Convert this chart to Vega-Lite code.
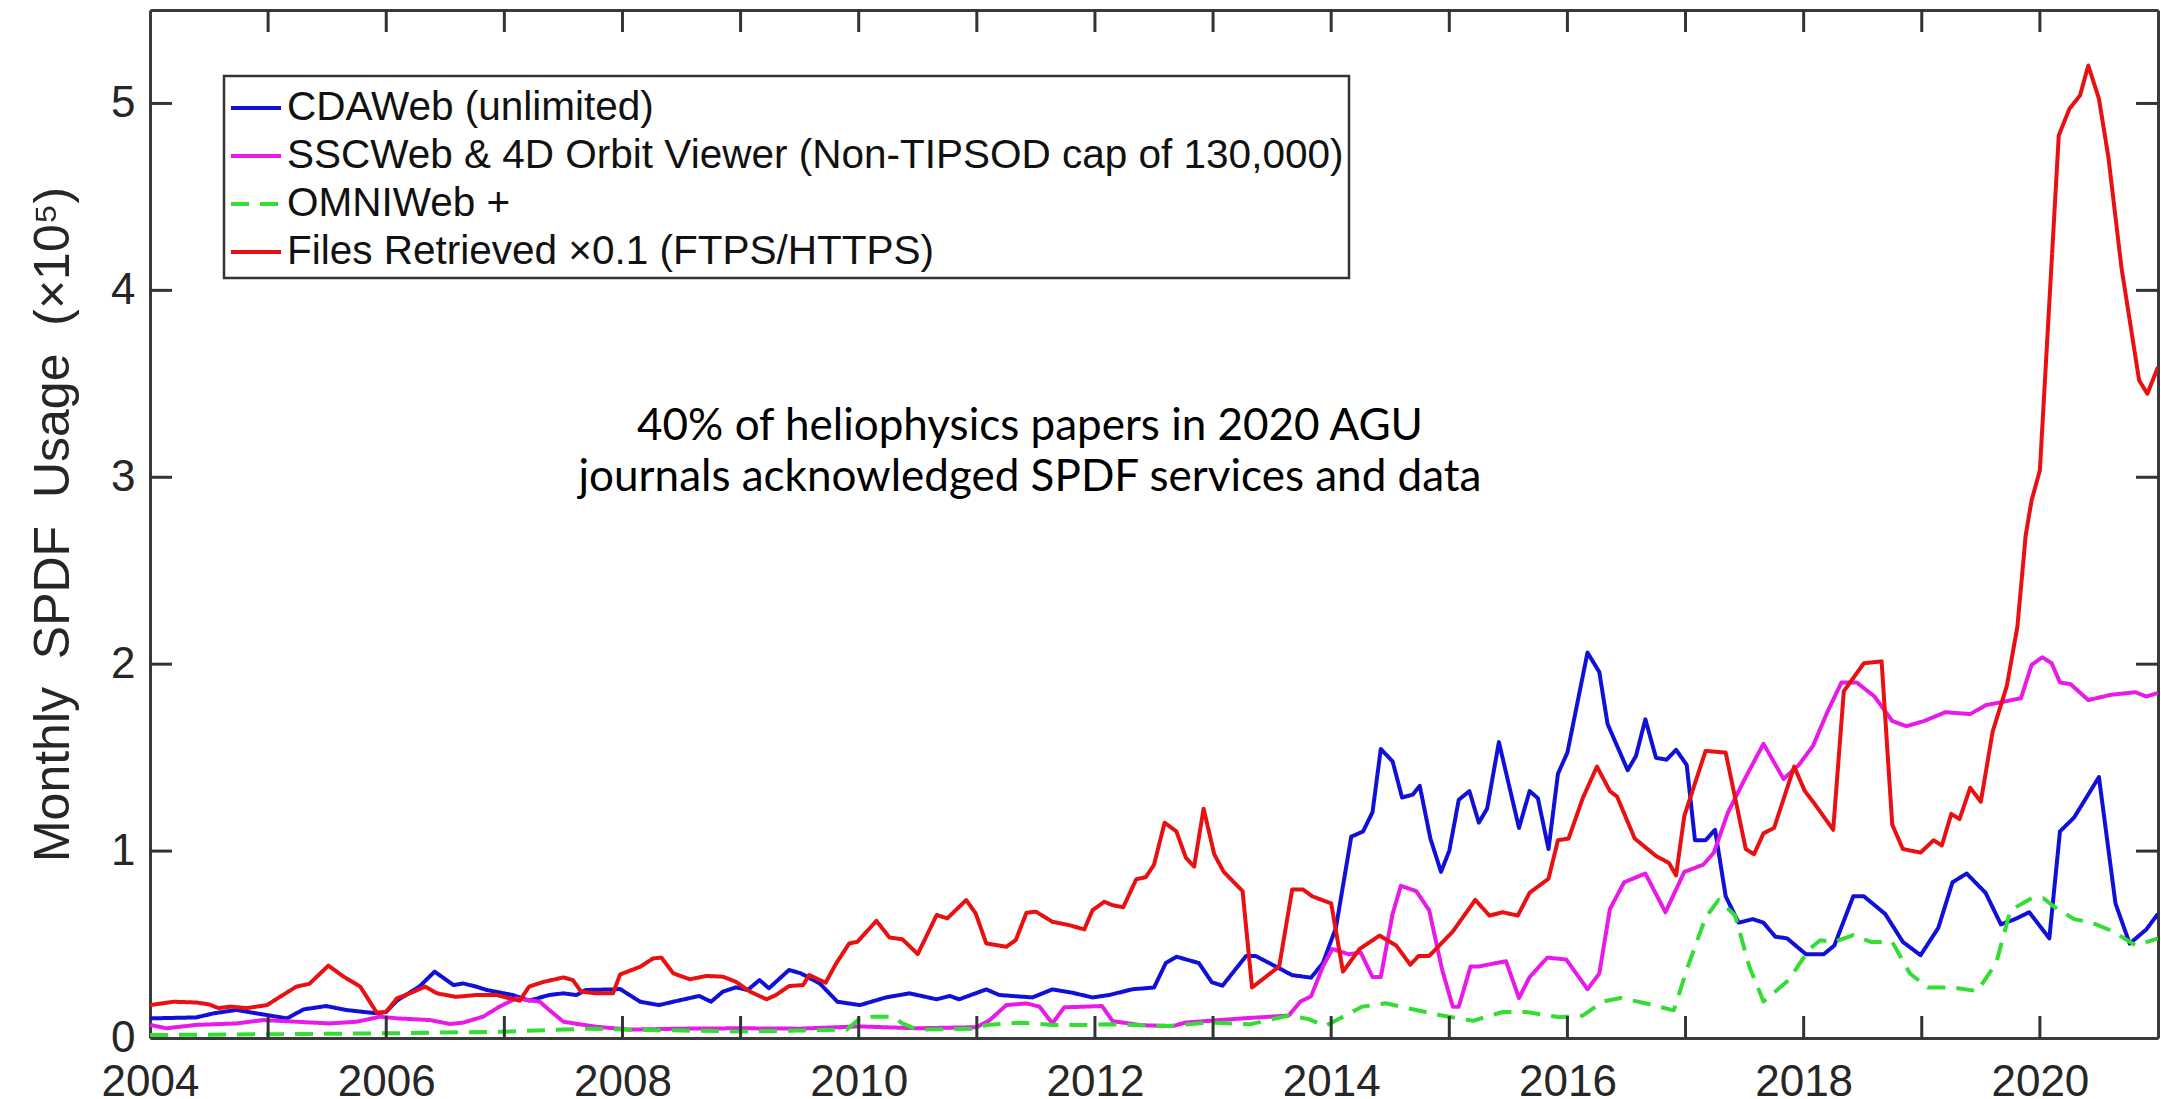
{
  "$schema": "https://vega.github.io/schema/vega-lite/v6.json",
  "width": 2008,
  "height": 1028,
  "autosize": {"type": "none"},
  "padding": {"left": 150, "top": 10, "right": 3, "bottom": 61},
  "background": "white",
  "config": {
    "view": {"stroke": null},
    "font": "Liberation Sans",
    "axis": {
      "grid": false,
      "domainColor": "#3a3a3a",
      "domainWidth": 3,
      "ticks": false,
      "tickSize": 0,
      "labelColor": "#262626",
      "labelFont": "Liberation Sans",
      "labelFontSize": 44,
      "labelFlush": false,
      "labelOverlap": false
    },
    "legend": {
      "orient": "none",
      "legendX": 74,
      "legendY": 66,
      "symbolType": "stroke",
      "symbolSize": 2500,
      "symbolStrokeWidth": 4,
      "labelFont": "Liberation Sans",
      "labelFontSize": 40.5,
      "labelColor": "#111111",
      "labelOffset": 4,
      "labelLimit": 0,
      "strokeColor": "#333333",
      "fillColor": "white",
      "padding": 5,
      "rowPadding": 0
    }
  },
  "datasets": {
    "series": [
      {"s": "CDAWeb (unlimited)", "t": 2004.0, "v": 0.105},
      {"s": "CDAWeb (unlimited)", "t": 2004.39, "v": 0.11},
      {"s": "CDAWeb (unlimited)", "t": 2004.54, "v": 0.132},
      {"s": "CDAWeb (unlimited)", "t": 2004.73, "v": 0.15},
      {"s": "CDAWeb (unlimited)", "t": 2004.9, "v": 0.132},
      {"s": "CDAWeb (unlimited)", "t": 2005.16, "v": 0.105},
      {"s": "CDAWeb (unlimited)", "t": 2005.3, "v": 0.153},
      {"s": "CDAWeb (unlimited)", "t": 2005.49, "v": 0.171},
      {"s": "CDAWeb (unlimited)", "t": 2005.66, "v": 0.15},
      {"s": "CDAWeb (unlimited)", "t": 2005.8, "v": 0.14},
      {"s": "CDAWeb (unlimited)", "t": 2005.93, "v": 0.132},
      {"s": "CDAWeb (unlimited)", "t": 2006.0, "v": 0.14},
      {"s": "CDAWeb (unlimited)", "t": 2006.09, "v": 0.2},
      {"s": "CDAWeb (unlimited)", "t": 2006.28, "v": 0.275},
      {"s": "CDAWeb (unlimited)", "t": 2006.41, "v": 0.355},
      {"s": "CDAWeb (unlimited)", "t": 2006.57, "v": 0.283},
      {"s": "CDAWeb (unlimited)", "t": 2006.65, "v": 0.292},
      {"s": "CDAWeb (unlimited)", "t": 2006.76, "v": 0.275},
      {"s": "CDAWeb (unlimited)", "t": 2006.85, "v": 0.257},
      {"s": "CDAWeb (unlimited)", "t": 2007.07, "v": 0.23},
      {"s": "CDAWeb (unlimited)", "t": 2007.21, "v": 0.2},
      {"s": "CDAWeb (unlimited)", "t": 2007.38, "v": 0.23},
      {"s": "CDAWeb (unlimited)", "t": 2007.5, "v": 0.239},
      {"s": "CDAWeb (unlimited)", "t": 2007.61, "v": 0.23},
      {"s": "CDAWeb (unlimited)", "t": 2007.69, "v": 0.257},
      {"s": "CDAWeb (unlimited)", "t": 2007.92, "v": 0.26},
      {"s": "CDAWeb (unlimited)", "t": 2007.98, "v": 0.262},
      {"s": "CDAWeb (unlimited)", "t": 2008.06, "v": 0.23},
      {"s": "CDAWeb (unlimited)", "t": 2008.15, "v": 0.194},
      {"s": "CDAWeb (unlimited)", "t": 2008.31, "v": 0.176},
      {"s": "CDAWeb (unlimited)", "t": 2008.43, "v": 0.194},
      {"s": "CDAWeb (unlimited)", "t": 2008.65, "v": 0.225},
      {"s": "CDAWeb (unlimited)", "t": 2008.75, "v": 0.194},
      {"s": "CDAWeb (unlimited)", "t": 2008.85, "v": 0.248},
      {"s": "CDAWeb (unlimited)", "t": 2008.96, "v": 0.271},
      {"s": "CDAWeb (unlimited)", "t": 2009.06, "v": 0.257},
      {"s": "CDAWeb (unlimited)", "t": 2009.16, "v": 0.31},
      {"s": "CDAWeb (unlimited)", "t": 2009.24, "v": 0.266},
      {"s": "CDAWeb (unlimited)", "t": 2009.41, "v": 0.364},
      {"s": "CDAWeb (unlimited)", "t": 2009.51, "v": 0.346},
      {"s": "CDAWeb (unlimited)", "t": 2009.67, "v": 0.292},
      {"s": "CDAWeb (unlimited)", "t": 2009.82, "v": 0.194},
      {"s": "CDAWeb (unlimited)", "t": 2010.01, "v": 0.176},
      {"s": "CDAWeb (unlimited)", "t": 2010.23, "v": 0.217},
      {"s": "CDAWeb (unlimited)", "t": 2010.43, "v": 0.239},
      {"s": "CDAWeb (unlimited)", "t": 2010.66, "v": 0.207},
      {"s": "CDAWeb (unlimited)", "t": 2010.77, "v": 0.225},
      {"s": "CDAWeb (unlimited)", "t": 2010.85, "v": 0.207},
      {"s": "CDAWeb (unlimited)", "t": 2011.08, "v": 0.26},
      {"s": "CDAWeb (unlimited)", "t": 2011.19, "v": 0.23},
      {"s": "CDAWeb (unlimited)", "t": 2011.47, "v": 0.217},
      {"s": "CDAWeb (unlimited)", "t": 2011.64, "v": 0.26},
      {"s": "CDAWeb (unlimited)", "t": 2011.81, "v": 0.242},
      {"s": "CDAWeb (unlimited)", "t": 2011.98, "v": 0.217},
      {"s": "CDAWeb (unlimited)", "t": 2012.12, "v": 0.23},
      {"s": "CDAWeb (unlimited)", "t": 2012.32, "v": 0.261},
      {"s": "CDAWeb (unlimited)", "t": 2012.5, "v": 0.27},
      {"s": "CDAWeb (unlimited)", "t": 2012.6, "v": 0.401},
      {"s": "CDAWeb (unlimited)", "t": 2012.69, "v": 0.435},
      {"s": "CDAWeb (unlimited)", "t": 2012.88, "v": 0.401},
      {"s": "CDAWeb (unlimited)", "t": 2012.99, "v": 0.298},
      {"s": "CDAWeb (unlimited)", "t": 2013.08, "v": 0.28},
      {"s": "CDAWeb (unlimited)", "t": 2013.28, "v": 0.439},
      {"s": "CDAWeb (unlimited)", "t": 2013.36, "v": 0.439},
      {"s": "CDAWeb (unlimited)", "t": 2013.53, "v": 0.383},
      {"s": "CDAWeb (unlimited)", "t": 2013.67, "v": 0.336},
      {"s": "CDAWeb (unlimited)", "t": 2013.83, "v": 0.323},
      {"s": "CDAWeb (unlimited)", "t": 2013.93, "v": 0.401},
      {"s": "CDAWeb (unlimited)", "t": 2014.04, "v": 0.589},
      {"s": "CDAWeb (unlimited)", "t": 2014.17, "v": 1.077},
      {"s": "CDAWeb (unlimited)", "t": 2014.27, "v": 1.105},
      {"s": "CDAWeb (unlimited)", "t": 2014.35, "v": 1.208},
      {"s": "CDAWeb (unlimited)", "t": 2014.42, "v": 1.546},
      {"s": "CDAWeb (unlimited)", "t": 2014.52, "v": 1.48},
      {"s": "CDAWeb (unlimited)", "t": 2014.6, "v": 1.287},
      {"s": "CDAWeb (unlimited)", "t": 2014.69, "v": 1.302},
      {"s": "CDAWeb (unlimited)", "t": 2014.75, "v": 1.349},
      {"s": "CDAWeb (unlimited)", "t": 2014.84, "v": 1.067},
      {"s": "CDAWeb (unlimited)", "t": 2014.93, "v": 0.889},
      {"s": "CDAWeb (unlimited)", "t": 2015.0, "v": 1.002},
      {"s": "CDAWeb (unlimited)", "t": 2015.08, "v": 1.274},
      {"s": "CDAWeb (unlimited)", "t": 2015.17, "v": 1.321},
      {"s": "CDAWeb (unlimited)", "t": 2015.25, "v": 1.152},
      {"s": "CDAWeb (unlimited)", "t": 2015.32, "v": 1.227},
      {"s": "CDAWeb (unlimited)", "t": 2015.42, "v": 1.583},
      {"s": "CDAWeb (unlimited)", "t": 2015.59, "v": 1.124},
      {"s": "CDAWeb (unlimited)", "t": 2015.68, "v": 1.321},
      {"s": "CDAWeb (unlimited)", "t": 2015.75, "v": 1.283},
      {"s": "CDAWeb (unlimited)", "t": 2015.84, "v": 1.011},
      {"s": "CDAWeb (unlimited)", "t": 2015.92, "v": 1.414},
      {"s": "CDAWeb (unlimited)", "t": 2016.0, "v": 1.527},
      {"s": "CDAWeb (unlimited)", "t": 2016.17, "v": 2.062},
      {"s": "CDAWeb (unlimited)", "t": 2016.27, "v": 1.958},
      {"s": "CDAWeb (unlimited)", "t": 2016.34, "v": 1.68},
      {"s": "CDAWeb (unlimited)", "t": 2016.51, "v": 1.433},
      {"s": "CDAWeb (unlimited)", "t": 2016.58, "v": 1.508},
      {"s": "CDAWeb (unlimited)", "t": 2016.66, "v": 1.705},
      {"s": "CDAWeb (unlimited)", "t": 2016.75, "v": 1.499},
      {"s": "CDAWeb (unlimited)", "t": 2016.84, "v": 1.489},
      {"s": "CDAWeb (unlimited)", "t": 2016.92, "v": 1.542},
      {"s": "CDAWeb (unlimited)", "t": 2017.01, "v": 1.461},
      {"s": "CDAWeb (unlimited)", "t": 2017.08, "v": 1.058},
      {"s": "CDAWeb (unlimited)", "t": 2017.17, "v": 1.058},
      {"s": "CDAWeb (unlimited)", "t": 2017.25, "v": 1.114},
      {"s": "CDAWeb (unlimited)", "t": 2017.34, "v": 0.758},
      {"s": "CDAWeb (unlimited)", "t": 2017.45, "v": 0.617},
      {"s": "CDAWeb (unlimited)", "t": 2017.57, "v": 0.636},
      {"s": "CDAWeb (unlimited)", "t": 2017.66, "v": 0.617},
      {"s": "CDAWeb (unlimited)", "t": 2017.76, "v": 0.542},
      {"s": "CDAWeb (unlimited)", "t": 2017.86, "v": 0.533},
      {"s": "CDAWeb (unlimited)", "t": 2018.02, "v": 0.448},
      {"s": "CDAWeb (unlimited)", "t": 2018.17, "v": 0.448},
      {"s": "CDAWeb (unlimited)", "t": 2018.26, "v": 0.495},
      {"s": "CDAWeb (unlimited)", "t": 2018.42, "v": 0.758},
      {"s": "CDAWeb (unlimited)", "t": 2018.51, "v": 0.758},
      {"s": "CDAWeb (unlimited)", "t": 2018.69, "v": 0.664},
      {"s": "CDAWeb (unlimited)", "t": 2018.84, "v": 0.514},
      {"s": "CDAWeb (unlimited)", "t": 2018.99, "v": 0.443},
      {"s": "CDAWeb (unlimited)", "t": 2019.14, "v": 0.589},
      {"s": "CDAWeb (unlimited)", "t": 2019.26, "v": 0.833},
      {"s": "CDAWeb (unlimited)", "t": 2019.38, "v": 0.88},
      {"s": "CDAWeb (unlimited)", "t": 2019.54, "v": 0.777},
      {"s": "CDAWeb (unlimited)", "t": 2019.67, "v": 0.608},
      {"s": "CDAWeb (unlimited)", "t": 2019.79, "v": 0.636},
      {"s": "CDAWeb (unlimited)", "t": 2019.91, "v": 0.673},
      {"s": "CDAWeb (unlimited)", "t": 2020.08, "v": 0.533},
      {"s": "CDAWeb (unlimited)", "t": 2020.17, "v": 1.105},
      {"s": "CDAWeb (unlimited)", "t": 2020.29, "v": 1.18},
      {"s": "CDAWeb (unlimited)", "t": 2020.5, "v": 1.396},
      {"s": "CDAWeb (unlimited)", "t": 2020.64, "v": 0.72},
      {"s": "CDAWeb (unlimited)", "t": 2020.76, "v": 0.505},
      {"s": "CDAWeb (unlimited)", "t": 2020.9, "v": 0.58},
      {"s": "CDAWeb (unlimited)", "t": 2021.0, "v": 0.664},

      {"s": "SSCWeb & 4D Orbit Viewer (Non-TIPSOD cap of 130,000)", "t": 2004.0, "v": 0.07},
      {"s": "SSCWeb & 4D Orbit Viewer (Non-TIPSOD cap of 130,000)", "t": 2004.14, "v": 0.052},
      {"s": "SSCWeb & 4D Orbit Viewer (Non-TIPSOD cap of 130,000)", "t": 2004.39, "v": 0.07},
      {"s": "SSCWeb & 4D Orbit Viewer (Non-TIPSOD cap of 130,000)", "t": 2004.73, "v": 0.078},
      {"s": "SSCWeb & 4D Orbit Viewer (Non-TIPSOD cap of 130,000)", "t": 2004.96, "v": 0.096},
      {"s": "SSCWeb & 4D Orbit Viewer (Non-TIPSOD cap of 130,000)", "t": 2005.24, "v": 0.087},
      {"s": "SSCWeb & 4D Orbit Viewer (Non-TIPSOD cap of 130,000)", "t": 2005.52, "v": 0.078},
      {"s": "SSCWeb & 4D Orbit Viewer (Non-TIPSOD cap of 130,000)", "t": 2005.75, "v": 0.087},
      {"s": "SSCWeb & 4D Orbit Viewer (Non-TIPSOD cap of 130,000)", "t": 2005.95, "v": 0.114},
      {"s": "SSCWeb & 4D Orbit Viewer (Non-TIPSOD cap of 130,000)", "t": 2006.09, "v": 0.105},
      {"s": "SSCWeb & 4D Orbit Viewer (Non-TIPSOD cap of 130,000)", "t": 2006.37, "v": 0.096},
      {"s": "SSCWeb & 4D Orbit Viewer (Non-TIPSOD cap of 130,000)", "t": 2006.54, "v": 0.075},
      {"s": "SSCWeb & 4D Orbit Viewer (Non-TIPSOD cap of 130,000)", "t": 2006.65, "v": 0.082},
      {"s": "SSCWeb & 4D Orbit Viewer (Non-TIPSOD cap of 130,000)", "t": 2006.82, "v": 0.114},
      {"s": "SSCWeb & 4D Orbit Viewer (Non-TIPSOD cap of 130,000)", "t": 2006.96, "v": 0.168},
      {"s": "SSCWeb & 4D Orbit Viewer (Non-TIPSOD cap of 130,000)", "t": 2007.1, "v": 0.212},
      {"s": "SSCWeb & 4D Orbit Viewer (Non-TIPSOD cap of 130,000)", "t": 2007.3, "v": 0.194},
      {"s": "SSCWeb & 4D Orbit Viewer (Non-TIPSOD cap of 130,000)", "t": 2007.38, "v": 0.15},
      {"s": "SSCWeb & 4D Orbit Viewer (Non-TIPSOD cap of 130,000)", "t": 2007.5, "v": 0.087},
      {"s": "SSCWeb & 4D Orbit Viewer (Non-TIPSOD cap of 130,000)", "t": 2007.78, "v": 0.06},
      {"s": "SSCWeb & 4D Orbit Viewer (Non-TIPSOD cap of 130,000)", "t": 2008.06, "v": 0.045},
      {"s": "SSCWeb & 4D Orbit Viewer (Non-TIPSOD cap of 130,000)", "t": 2008.5, "v": 0.05},
      {"s": "SSCWeb & 4D Orbit Viewer (Non-TIPSOD cap of 130,000)", "t": 2009.0, "v": 0.052},
      {"s": "SSCWeb & 4D Orbit Viewer (Non-TIPSOD cap of 130,000)", "t": 2009.5, "v": 0.05},
      {"s": "SSCWeb & 4D Orbit Viewer (Non-TIPSOD cap of 130,000)", "t": 2010.0, "v": 0.062},
      {"s": "SSCWeb & 4D Orbit Viewer (Non-TIPSOD cap of 130,000)", "t": 2010.5, "v": 0.052},
      {"s": "SSCWeb & 4D Orbit Viewer (Non-TIPSOD cap of 130,000)", "t": 2011.0, "v": 0.058},
      {"s": "SSCWeb & 4D Orbit Viewer (Non-TIPSOD cap of 130,000)", "t": 2011.11, "v": 0.096},
      {"s": "SSCWeb & 4D Orbit Viewer (Non-TIPSOD cap of 130,000)", "t": 2011.25, "v": 0.176},
      {"s": "SSCWeb & 4D Orbit Viewer (Non-TIPSOD cap of 130,000)", "t": 2011.42, "v": 0.185},
      {"s": "SSCWeb & 4D Orbit Viewer (Non-TIPSOD cap of 130,000)", "t": 2011.53, "v": 0.168},
      {"s": "SSCWeb & 4D Orbit Viewer (Non-TIPSOD cap of 130,000)", "t": 2011.64, "v": 0.078},
      {"s": "SSCWeb & 4D Orbit Viewer (Non-TIPSOD cap of 130,000)", "t": 2011.74, "v": 0.164},
      {"s": "SSCWeb & 4D Orbit Viewer (Non-TIPSOD cap of 130,000)", "t": 2012.06, "v": 0.171},
      {"s": "SSCWeb & 4D Orbit Viewer (Non-TIPSOD cap of 130,000)", "t": 2012.15, "v": 0.09},
      {"s": "SSCWeb & 4D Orbit Viewer (Non-TIPSOD cap of 130,000)", "t": 2012.4, "v": 0.068},
      {"s": "SSCWeb & 4D Orbit Viewer (Non-TIPSOD cap of 130,000)", "t": 2012.66, "v": 0.064},
      {"s": "SSCWeb & 4D Orbit Viewer (Non-TIPSOD cap of 130,000)", "t": 2012.77, "v": 0.083},
      {"s": "SSCWeb & 4D Orbit Viewer (Non-TIPSOD cap of 130,000)", "t": 2012.97, "v": 0.092},
      {"s": "SSCWeb & 4D Orbit Viewer (Non-TIPSOD cap of 130,000)", "t": 2013.25, "v": 0.105},
      {"s": "SSCWeb & 4D Orbit Viewer (Non-TIPSOD cap of 130,000)", "t": 2013.64, "v": 0.12},
      {"s": "SSCWeb & 4D Orbit Viewer (Non-TIPSOD cap of 130,000)", "t": 2013.74, "v": 0.195},
      {"s": "SSCWeb & 4D Orbit Viewer (Non-TIPSOD cap of 130,000)", "t": 2013.83, "v": 0.223},
      {"s": "SSCWeb & 4D Orbit Viewer (Non-TIPSOD cap of 130,000)", "t": 2013.93, "v": 0.383},
      {"s": "SSCWeb & 4D Orbit Viewer (Non-TIPSOD cap of 130,000)", "t": 2014.01, "v": 0.476},
      {"s": "SSCWeb & 4D Orbit Viewer (Non-TIPSOD cap of 130,000)", "t": 2014.15, "v": 0.448},
      {"s": "SSCWeb & 4D Orbit Viewer (Non-TIPSOD cap of 130,000)", "t": 2014.25, "v": 0.458},
      {"s": "SSCWeb & 4D Orbit Viewer (Non-TIPSOD cap of 130,000)", "t": 2014.35, "v": 0.326},
      {"s": "SSCWeb & 4D Orbit Viewer (Non-TIPSOD cap of 130,000)", "t": 2014.42, "v": 0.326},
      {"s": "SSCWeb & 4D Orbit Viewer (Non-TIPSOD cap of 130,000)", "t": 2014.52, "v": 0.664},
      {"s": "SSCWeb & 4D Orbit Viewer (Non-TIPSOD cap of 130,000)", "t": 2014.59, "v": 0.814},
      {"s": "SSCWeb & 4D Orbit Viewer (Non-TIPSOD cap of 130,000)", "t": 2014.72, "v": 0.786},
      {"s": "SSCWeb & 4D Orbit Viewer (Non-TIPSOD cap of 130,000)", "t": 2014.83, "v": 0.683},
      {"s": "SSCWeb & 4D Orbit Viewer (Non-TIPSOD cap of 130,000)", "t": 2014.94, "v": 0.364},
      {"s": "SSCWeb & 4D Orbit Viewer (Non-TIPSOD cap of 130,000)", "t": 2015.03, "v": 0.167},
      {"s": "SSCWeb & 4D Orbit Viewer (Non-TIPSOD cap of 130,000)", "t": 2015.08, "v": 0.167},
      {"s": "SSCWeb & 4D Orbit Viewer (Non-TIPSOD cap of 130,000)", "t": 2015.18, "v": 0.383},
      {"s": "SSCWeb & 4D Orbit Viewer (Non-TIPSOD cap of 130,000)", "t": 2015.25, "v": 0.383},
      {"s": "SSCWeb & 4D Orbit Viewer (Non-TIPSOD cap of 130,000)", "t": 2015.48, "v": 0.411},
      {"s": "SSCWeb & 4D Orbit Viewer (Non-TIPSOD cap of 130,000)", "t": 2015.59, "v": 0.214},
      {"s": "SSCWeb & 4D Orbit Viewer (Non-TIPSOD cap of 130,000)", "t": 2015.68, "v": 0.326},
      {"s": "SSCWeb & 4D Orbit Viewer (Non-TIPSOD cap of 130,000)", "t": 2015.83, "v": 0.43},
      {"s": "SSCWeb & 4D Orbit Viewer (Non-TIPSOD cap of 130,000)", "t": 2015.99, "v": 0.42},
      {"s": "SSCWeb & 4D Orbit Viewer (Non-TIPSOD cap of 130,000)", "t": 2016.17, "v": 0.261},
      {"s": "SSCWeb & 4D Orbit Viewer (Non-TIPSOD cap of 130,000)", "t": 2016.27, "v": 0.345},
      {"s": "SSCWeb & 4D Orbit Viewer (Non-TIPSOD cap of 130,000)", "t": 2016.36, "v": 0.69},
      {"s": "SSCWeb & 4D Orbit Viewer (Non-TIPSOD cap of 130,000)", "t": 2016.48, "v": 0.833},
      {"s": "SSCWeb & 4D Orbit Viewer (Non-TIPSOD cap of 130,000)", "t": 2016.66, "v": 0.88},
      {"s": "SSCWeb & 4D Orbit Viewer (Non-TIPSOD cap of 130,000)", "t": 2016.83, "v": 0.673},
      {"s": "SSCWeb & 4D Orbit Viewer (Non-TIPSOD cap of 130,000)", "t": 2016.99, "v": 0.889},
      {"s": "SSCWeb & 4D Orbit Viewer (Non-TIPSOD cap of 130,000)", "t": 2017.15, "v": 0.927},
      {"s": "SSCWeb & 4D Orbit Viewer (Non-TIPSOD cap of 130,000)", "t": 2017.24, "v": 0.992},
      {"s": "SSCWeb & 4D Orbit Viewer (Non-TIPSOD cap of 130,000)", "t": 2017.36, "v": 1.208},
      {"s": "SSCWeb & 4D Orbit Viewer (Non-TIPSOD cap of 130,000)", "t": 2017.51, "v": 1.396},
      {"s": "SSCWeb & 4D Orbit Viewer (Non-TIPSOD cap of 130,000)", "t": 2017.66, "v": 1.574},
      {"s": "SSCWeb & 4D Orbit Viewer (Non-TIPSOD cap of 130,000)", "t": 2017.83, "v": 1.386},
      {"s": "SSCWeb & 4D Orbit Viewer (Non-TIPSOD cap of 130,000)", "t": 2017.96, "v": 1.461},
      {"s": "SSCWeb & 4D Orbit Viewer (Non-TIPSOD cap of 130,000)", "t": 2018.08, "v": 1.564},
      {"s": "SSCWeb & 4D Orbit Viewer (Non-TIPSOD cap of 130,000)", "t": 2018.2, "v": 1.743},
      {"s": "SSCWeb & 4D Orbit Viewer (Non-TIPSOD cap of 130,000)", "t": 2018.32, "v": 1.902},
      {"s": "SSCWeb & 4D Orbit Viewer (Non-TIPSOD cap of 130,000)", "t": 2018.45, "v": 1.902},
      {"s": "SSCWeb & 4D Orbit Viewer (Non-TIPSOD cap of 130,000)", "t": 2018.6, "v": 1.827},
      {"s": "SSCWeb & 4D Orbit Viewer (Non-TIPSOD cap of 130,000)", "t": 2018.75, "v": 1.696},
      {"s": "SSCWeb & 4D Orbit Viewer (Non-TIPSOD cap of 130,000)", "t": 2018.87, "v": 1.668},
      {"s": "SSCWeb & 4D Orbit Viewer (Non-TIPSOD cap of 130,000)", "t": 2019.02, "v": 1.696},
      {"s": "SSCWeb & 4D Orbit Viewer (Non-TIPSOD cap of 130,000)", "t": 2019.2, "v": 1.743},
      {"s": "SSCWeb & 4D Orbit Viewer (Non-TIPSOD cap of 130,000)", "t": 2019.41, "v": 1.733},
      {"s": "SSCWeb & 4D Orbit Viewer (Non-TIPSOD cap of 130,000)", "t": 2019.54, "v": 1.78},
      {"s": "SSCWeb & 4D Orbit Viewer (Non-TIPSOD cap of 130,000)", "t": 2019.69, "v": 1.799},
      {"s": "SSCWeb & 4D Orbit Viewer (Non-TIPSOD cap of 130,000)", "t": 2019.84, "v": 1.818},
      {"s": "SSCWeb & 4D Orbit Viewer (Non-TIPSOD cap of 130,000)", "t": 2019.93, "v": 1.996},
      {"s": "SSCWeb & 4D Orbit Viewer (Non-TIPSOD cap of 130,000)", "t": 2020.02, "v": 2.037},
      {"s": "SSCWeb & 4D Orbit Viewer (Non-TIPSOD cap of 130,000)", "t": 2020.1, "v": 2.005},
      {"s": "SSCWeb & 4D Orbit Viewer (Non-TIPSOD cap of 130,000)", "t": 2020.17, "v": 1.902},
      {"s": "SSCWeb & 4D Orbit Viewer (Non-TIPSOD cap of 130,000)", "t": 2020.26, "v": 1.893},
      {"s": "SSCWeb & 4D Orbit Viewer (Non-TIPSOD cap of 130,000)", "t": 2020.41, "v": 1.808},
      {"s": "SSCWeb & 4D Orbit Viewer (Non-TIPSOD cap of 130,000)", "t": 2020.6, "v": 1.836},
      {"s": "SSCWeb & 4D Orbit Viewer (Non-TIPSOD cap of 130,000)", "t": 2020.81, "v": 1.85},
      {"s": "SSCWeb & 4D Orbit Viewer (Non-TIPSOD cap of 130,000)", "t": 2020.9, "v": 1.827},
      {"s": "SSCWeb & 4D Orbit Viewer (Non-TIPSOD cap of 130,000)", "t": 2021.0, "v": 1.846},

      {"s": "OMNIWeb +", "t": 2004.0, "v": 0.016},
      {"s": "OMNIWeb +", "t": 2005.0, "v": 0.02},
      {"s": "OMNIWeb +", "t": 2006.0, "v": 0.025},
      {"s": "OMNIWeb +", "t": 2007.0, "v": 0.034},
      {"s": "OMNIWeb +", "t": 2007.7, "v": 0.05},
      {"s": "OMNIWeb +", "t": 2008.0, "v": 0.045},
      {"s": "OMNIWeb +", "t": 2008.5, "v": 0.04},
      {"s": "OMNIWeb +", "t": 2009.0, "v": 0.035},
      {"s": "OMNIWeb +", "t": 2009.5, "v": 0.04},
      {"s": "OMNIWeb +", "t": 2009.9, "v": 0.045},
      {"s": "OMNIWeb +", "t": 2010.01, "v": 0.105},
      {"s": "OMNIWeb +", "t": 2010.12, "v": 0.114},
      {"s": "OMNIWeb +", "t": 2010.29, "v": 0.114},
      {"s": "OMNIWeb +", "t": 2010.37, "v": 0.078},
      {"s": "OMNIWeb +", "t": 2010.5, "v": 0.045},
      {"s": "OMNIWeb +", "t": 2011.0, "v": 0.05},
      {"s": "OMNIWeb +", "t": 2011.08, "v": 0.07},
      {"s": "OMNIWeb +", "t": 2011.36, "v": 0.082},
      {"s": "OMNIWeb +", "t": 2011.64, "v": 0.07},
      {"s": "OMNIWeb +", "t": 2011.92, "v": 0.07},
      {"s": "OMNIWeb +", "t": 2012.12, "v": 0.073},
      {"s": "OMNIWeb +", "t": 2012.63, "v": 0.064},
      {"s": "OMNIWeb +", "t": 2012.97, "v": 0.083},
      {"s": "OMNIWeb +", "t": 2013.31, "v": 0.073},
      {"s": "OMNIWeb +", "t": 2013.64, "v": 0.12},
      {"s": "OMNIWeb +", "t": 2013.81, "v": 0.101},
      {"s": "OMNIWeb +", "t": 2013.95, "v": 0.064},
      {"s": "OMNIWeb +", "t": 2014.26, "v": 0.167},
      {"s": "OMNIWeb +", "t": 2014.46, "v": 0.186},
      {"s": "OMNIWeb +", "t": 2014.66, "v": 0.158},
      {"s": "OMNIWeb +", "t": 2014.94, "v": 0.12},
      {"s": "OMNIWeb +", "t": 2015.2, "v": 0.092},
      {"s": "OMNIWeb +", "t": 2015.45, "v": 0.139},
      {"s": "OMNIWeb +", "t": 2015.65, "v": 0.139},
      {"s": "OMNIWeb +", "t": 2015.93, "v": 0.111},
      {"s": "OMNIWeb +", "t": 2016.13, "v": 0.12},
      {"s": "OMNIWeb +", "t": 2016.3, "v": 0.195},
      {"s": "OMNIWeb +", "t": 2016.45, "v": 0.214},
      {"s": "OMNIWeb +", "t": 2016.66, "v": 0.186},
      {"s": "OMNIWeb +", "t": 2016.9, "v": 0.148},
      {"s": "OMNIWeb +", "t": 2017.02, "v": 0.383},
      {"s": "OMNIWeb +", "t": 2017.17, "v": 0.645},
      {"s": "OMNIWeb +", "t": 2017.28, "v": 0.739},
      {"s": "OMNIWeb +", "t": 2017.42, "v": 0.655},
      {"s": "OMNIWeb +", "t": 2017.54, "v": 0.383},
      {"s": "OMNIWeb +", "t": 2017.66, "v": 0.195},
      {"s": "OMNIWeb +", "t": 2017.87, "v": 0.308},
      {"s": "OMNIWeb +", "t": 2018.05, "v": 0.476},
      {"s": "OMNIWeb +", "t": 2018.14, "v": 0.523},
      {"s": "OMNIWeb +", "t": 2018.26, "v": 0.514},
      {"s": "OMNIWeb +", "t": 2018.42, "v": 0.551},
      {"s": "OMNIWeb +", "t": 2018.57, "v": 0.514},
      {"s": "OMNIWeb +", "t": 2018.75, "v": 0.514},
      {"s": "OMNIWeb +", "t": 2018.9, "v": 0.345},
      {"s": "OMNIWeb +", "t": 2019.05, "v": 0.27},
      {"s": "OMNIWeb +", "t": 2019.26, "v": 0.27},
      {"s": "OMNIWeb +", "t": 2019.47, "v": 0.251},
      {"s": "OMNIWeb +", "t": 2019.63, "v": 0.401},
      {"s": "OMNIWeb +", "t": 2019.75, "v": 0.683},
      {"s": "OMNIWeb +", "t": 2019.93, "v": 0.748},
      {"s": "OMNIWeb +", "t": 2020.03, "v": 0.748},
      {"s": "OMNIWeb +", "t": 2020.12, "v": 0.702},
      {"s": "OMNIWeb +", "t": 2020.29, "v": 0.636},
      {"s": "OMNIWeb +", "t": 2020.44, "v": 0.617},
      {"s": "OMNIWeb +", "t": 2020.62, "v": 0.57},
      {"s": "OMNIWeb +", "t": 2020.81, "v": 0.495},
      {"s": "OMNIWeb +", "t": 2021.0, "v": 0.533},

      {"s": "Files Retrieved ×0.1 (FTPS/HTTPS)", "t": 2004.0, "v": 0.176},
      {"s": "Files Retrieved ×0.1 (FTPS/HTTPS)", "t": 2004.2, "v": 0.194},
      {"s": "Files Retrieved ×0.1 (FTPS/HTTPS)", "t": 2004.39, "v": 0.19},
      {"s": "Files Retrieved ×0.1 (FTPS/HTTPS)", "t": 2004.5, "v": 0.18},
      {"s": "Files Retrieved ×0.1 (FTPS/HTTPS)", "t": 2004.58, "v": 0.16},
      {"s": "Files Retrieved ×0.1 (FTPS/HTTPS)", "t": 2004.68, "v": 0.168},
      {"s": "Files Retrieved ×0.1 (FTPS/HTTPS)", "t": 2004.82, "v": 0.16},
      {"s": "Files Retrieved ×0.1 (FTPS/HTTPS)", "t": 2004.99, "v": 0.176},
      {"s": "Files Retrieved ×0.1 (FTPS/HTTPS)", "t": 2005.1, "v": 0.22},
      {"s": "Files Retrieved ×0.1 (FTPS/HTTPS)", "t": 2005.24, "v": 0.275},
      {"s": "Files Retrieved ×0.1 (FTPS/HTTPS)", "t": 2005.35, "v": 0.29},
      {"s": "Files Retrieved ×0.1 (FTPS/HTTPS)", "t": 2005.51, "v": 0.387},
      {"s": "Files Retrieved ×0.1 (FTPS/HTTPS)", "t": 2005.64, "v": 0.328},
      {"s": "Files Retrieved ×0.1 (FTPS/HTTPS)", "t": 2005.78, "v": 0.275},
      {"s": "Files Retrieved ×0.1 (FTPS/HTTPS)", "t": 2005.92, "v": 0.135},
      {"s": "Files Retrieved ×0.1 (FTPS/HTTPS)", "t": 2006.0, "v": 0.14},
      {"s": "Files Retrieved ×0.1 (FTPS/HTTPS)", "t": 2006.09, "v": 0.212},
      {"s": "Files Retrieved ×0.1 (FTPS/HTTPS)", "t": 2006.2, "v": 0.239},
      {"s": "Files Retrieved ×0.1 (FTPS/HTTPS)", "t": 2006.33, "v": 0.275},
      {"s": "Files Retrieved ×0.1 (FTPS/HTTPS)", "t": 2006.43, "v": 0.239},
      {"s": "Files Retrieved ×0.1 (FTPS/HTTPS)", "t": 2006.59, "v": 0.22},
      {"s": "Files Retrieved ×0.1 (FTPS/HTTPS)", "t": 2006.76, "v": 0.23},
      {"s": "Files Retrieved ×0.1 (FTPS/HTTPS)", "t": 2006.93, "v": 0.23},
      {"s": "Files Retrieved ×0.1 (FTPS/HTTPS)", "t": 2007.13, "v": 0.2},
      {"s": "Files Retrieved ×0.1 (FTPS/HTTPS)", "t": 2007.21, "v": 0.275},
      {"s": "Files Retrieved ×0.1 (FTPS/HTTPS)", "t": 2007.33, "v": 0.3},
      {"s": "Files Retrieved ×0.1 (FTPS/HTTPS)", "t": 2007.5, "v": 0.324},
      {"s": "Files Retrieved ×0.1 (FTPS/HTTPS)", "t": 2007.58, "v": 0.31},
      {"s": "Files Retrieved ×0.1 (FTPS/HTTPS)", "t": 2007.65, "v": 0.248},
      {"s": "Files Retrieved ×0.1 (FTPS/HTTPS)", "t": 2007.78, "v": 0.239},
      {"s": "Files Retrieved ×0.1 (FTPS/HTTPS)", "t": 2007.92, "v": 0.239},
      {"s": "Files Retrieved ×0.1 (FTPS/HTTPS)", "t": 2007.98, "v": 0.34},
      {"s": "Files Retrieved ×0.1 (FTPS/HTTPS)", "t": 2008.15, "v": 0.381},
      {"s": "Files Retrieved ×0.1 (FTPS/HTTPS)", "t": 2008.26, "v": 0.426},
      {"s": "Files Retrieved ×0.1 (FTPS/HTTPS)", "t": 2008.33, "v": 0.43},
      {"s": "Files Retrieved ×0.1 (FTPS/HTTPS)", "t": 2008.43, "v": 0.346},
      {"s": "Files Retrieved ×0.1 (FTPS/HTTPS)", "t": 2008.57, "v": 0.314},
      {"s": "Files Retrieved ×0.1 (FTPS/HTTPS)", "t": 2008.71, "v": 0.332},
      {"s": "Files Retrieved ×0.1 (FTPS/HTTPS)", "t": 2008.85, "v": 0.328},
      {"s": "Files Retrieved ×0.1 (FTPS/HTTPS)", "t": 2008.96, "v": 0.301},
      {"s": "Files Retrieved ×0.1 (FTPS/HTTPS)", "t": 2009.08, "v": 0.248},
      {"s": "Files Retrieved ×0.1 (FTPS/HTTPS)", "t": 2009.22, "v": 0.207},
      {"s": "Files Retrieved ×0.1 (FTPS/HTTPS)", "t": 2009.3, "v": 0.23},
      {"s": "Files Retrieved ×0.1 (FTPS/HTTPS)", "t": 2009.41, "v": 0.278},
      {"s": "Files Retrieved ×0.1 (FTPS/HTTPS)", "t": 2009.53, "v": 0.283},
      {"s": "Files Retrieved ×0.1 (FTPS/HTTPS)", "t": 2009.58, "v": 0.337},
      {"s": "Files Retrieved ×0.1 (FTPS/HTTPS)", "t": 2009.72, "v": 0.296},
      {"s": "Files Retrieved ×0.1 (FTPS/HTTPS)", "t": 2009.81, "v": 0.4},
      {"s": "Files Retrieved ×0.1 (FTPS/HTTPS)", "t": 2009.92, "v": 0.506},
      {"s": "Files Retrieved ×0.1 (FTPS/HTTPS)", "t": 2009.99, "v": 0.515},
      {"s": "Files Retrieved ×0.1 (FTPS/HTTPS)", "t": 2010.15, "v": 0.627},
      {"s": "Files Retrieved ×0.1 (FTPS/HTTPS)", "t": 2010.26, "v": 0.538},
      {"s": "Files Retrieved ×0.1 (FTPS/HTTPS)", "t": 2010.37, "v": 0.528},
      {"s": "Files Retrieved ×0.1 (FTPS/HTTPS)", "t": 2010.5, "v": 0.449},
      {"s": "Files Retrieved ×0.1 (FTPS/HTTPS)", "t": 2010.66, "v": 0.658},
      {"s": "Files Retrieved ×0.1 (FTPS/HTTPS)", "t": 2010.75, "v": 0.64},
      {"s": "Files Retrieved ×0.1 (FTPS/HTTPS)", "t": 2010.91, "v": 0.738},
      {"s": "Files Retrieved ×0.1 (FTPS/HTTPS)", "t": 2010.99, "v": 0.667},
      {"s": "Files Retrieved ×0.1 (FTPS/HTTPS)", "t": 2011.08, "v": 0.506},
      {"s": "Files Retrieved ×0.1 (FTPS/HTTPS)", "t": 2011.25, "v": 0.488},
      {"s": "Files Retrieved ×0.1 (FTPS/HTTPS)", "t": 2011.33, "v": 0.524},
      {"s": "Files Retrieved ×0.1 (FTPS/HTTPS)", "t": 2011.42, "v": 0.67},
      {"s": "Files Retrieved ×0.1 (FTPS/HTTPS)", "t": 2011.5, "v": 0.676},
      {"s": "Files Retrieved ×0.1 (FTPS/HTTPS)", "t": 2011.64, "v": 0.622},
      {"s": "Files Retrieved ×0.1 (FTPS/HTTPS)", "t": 2011.78, "v": 0.604},
      {"s": "Files Retrieved ×0.1 (FTPS/HTTPS)", "t": 2011.91, "v": 0.581},
      {"s": "Files Retrieved ×0.1 (FTPS/HTTPS)", "t": 2011.98, "v": 0.684},
      {"s": "Files Retrieved ×0.1 (FTPS/HTTPS)", "t": 2012.08, "v": 0.729},
      {"s": "Files Retrieved ×0.1 (FTPS/HTTPS)", "t": 2012.15, "v": 0.71},
      {"s": "Files Retrieved ×0.1 (FTPS/HTTPS)", "t": 2012.24, "v": 0.7},
      {"s": "Files Retrieved ×0.1 (FTPS/HTTPS)", "t": 2012.35, "v": 0.85},
      {"s": "Files Retrieved ×0.1 (FTPS/HTTPS)", "t": 2012.43, "v": 0.86},
      {"s": "Files Retrieved ×0.1 (FTPS/HTTPS)", "t": 2012.5, "v": 0.927},
      {"s": "Files Retrieved ×0.1 (FTPS/HTTPS)", "t": 2012.59, "v": 1.152},
      {"s": "Files Retrieved ×0.1 (FTPS/HTTPS)", "t": 2012.69, "v": 1.105},
      {"s": "Files Retrieved ×0.1 (FTPS/HTTPS)", "t": 2012.77, "v": 0.964},
      {"s": "Files Retrieved ×0.1 (FTPS/HTTPS)", "t": 2012.84, "v": 0.917},
      {"s": "Files Retrieved ×0.1 (FTPS/HTTPS)", "t": 2012.92, "v": 1.227},
      {"s": "Files Retrieved ×0.1 (FTPS/HTTPS)", "t": 2013.01, "v": 0.983},
      {"s": "Files Retrieved ×0.1 (FTPS/HTTPS)", "t": 2013.09, "v": 0.889},
      {"s": "Files Retrieved ×0.1 (FTPS/HTTPS)", "t": 2013.25, "v": 0.786},
      {"s": "Files Retrieved ×0.1 (FTPS/HTTPS)", "t": 2013.33, "v": 0.27},
      {"s": "Files Retrieved ×0.1 (FTPS/HTTPS)", "t": 2013.56, "v": 0.383},
      {"s": "Files Retrieved ×0.1 (FTPS/HTTPS)", "t": 2013.67, "v": 0.795},
      {"s": "Files Retrieved ×0.1 (FTPS/HTTPS)", "t": 2013.76, "v": 0.795},
      {"s": "Files Retrieved ×0.1 (FTPS/HTTPS)", "t": 2013.84, "v": 0.758},
      {"s": "Files Retrieved ×0.1 (FTPS/HTTPS)", "t": 2014.0, "v": 0.72},
      {"s": "Files Retrieved ×0.1 (FTPS/HTTPS)", "t": 2014.1, "v": 0.355},
      {"s": "Files Retrieved ×0.1 (FTPS/HTTPS)", "t": 2014.24, "v": 0.476},
      {"s": "Files Retrieved ×0.1 (FTPS/HTTPS)", "t": 2014.41, "v": 0.548},
      {"s": "Files Retrieved ×0.1 (FTPS/HTTPS)", "t": 2014.55, "v": 0.495},
      {"s": "Files Retrieved ×0.1 (FTPS/HTTPS)", "t": 2014.67, "v": 0.392},
      {"s": "Files Retrieved ×0.1 (FTPS/HTTPS)", "t": 2014.74, "v": 0.439},
      {"s": "Files Retrieved ×0.1 (FTPS/HTTPS)", "t": 2014.83, "v": 0.439},
      {"s": "Files Retrieved ×0.1 (FTPS/HTTPS)", "t": 2015.03, "v": 0.57},
      {"s": "Files Retrieved ×0.1 (FTPS/HTTPS)", "t": 2015.22, "v": 0.739},
      {"s": "Files Retrieved ×0.1 (FTPS/HTTPS)", "t": 2015.34, "v": 0.655},
      {"s": "Files Retrieved ×0.1 (FTPS/HTTPS)", "t": 2015.45, "v": 0.673},
      {"s": "Files Retrieved ×0.1 (FTPS/HTTPS)", "t": 2015.58, "v": 0.655},
      {"s": "Files Retrieved ×0.1 (FTPS/HTTPS)", "t": 2015.68, "v": 0.777},
      {"s": "Files Retrieved ×0.1 (FTPS/HTTPS)", "t": 2015.84, "v": 0.852},
      {"s": "Files Retrieved ×0.1 (FTPS/HTTPS)", "t": 2015.92, "v": 1.058},
      {"s": "Files Retrieved ×0.1 (FTPS/HTTPS)", "t": 2016.01, "v": 1.067},
      {"s": "Files Retrieved ×0.1 (FTPS/HTTPS)", "t": 2016.13, "v": 1.283},
      {"s": "Files Retrieved ×0.1 (FTPS/HTTPS)", "t": 2016.25, "v": 1.452},
      {"s": "Files Retrieved ×0.1 (FTPS/HTTPS)", "t": 2016.36, "v": 1.321},
      {"s": "Files Retrieved ×0.1 (FTPS/HTTPS)", "t": 2016.42, "v": 1.292},
      {"s": "Files Retrieved ×0.1 (FTPS/HTTPS)", "t": 2016.57, "v": 1.067},
      {"s": "Files Retrieved ×0.1 (FTPS/HTTPS)", "t": 2016.75, "v": 0.974},
      {"s": "Files Retrieved ×0.1 (FTPS/HTTPS)", "t": 2016.86, "v": 0.936},
      {"s": "Files Retrieved ×0.1 (FTPS/HTTPS)", "t": 2016.92, "v": 0.87},
      {"s": "Files Retrieved ×0.1 (FTPS/HTTPS)", "t": 2016.99, "v": 1.189},
      {"s": "Files Retrieved ×0.1 (FTPS/HTTPS)", "t": 2017.17, "v": 1.536},
      {"s": "Files Retrieved ×0.1 (FTPS/HTTPS)", "t": 2017.34, "v": 1.527},
      {"s": "Files Retrieved ×0.1 (FTPS/HTTPS)", "t": 2017.51, "v": 1.011},
      {"s": "Files Retrieved ×0.1 (FTPS/HTTPS)", "t": 2017.58, "v": 0.983},
      {"s": "Files Retrieved ×0.1 (FTPS/HTTPS)", "t": 2017.66, "v": 1.095},
      {"s": "Files Retrieved ×0.1 (FTPS/HTTPS)", "t": 2017.75, "v": 1.124},
      {"s": "Files Retrieved ×0.1 (FTPS/HTTPS)", "t": 2017.92, "v": 1.452},
      {"s": "Files Retrieved ×0.1 (FTPS/HTTPS)", "t": 2018.01, "v": 1.321},
      {"s": "Files Retrieved ×0.1 (FTPS/HTTPS)", "t": 2018.08, "v": 1.264},
      {"s": "Files Retrieved ×0.1 (FTPS/HTTPS)", "t": 2018.25, "v": 1.114},
      {"s": "Files Retrieved ×0.1 (FTPS/HTTPS)", "t": 2018.34, "v": 1.855},
      {"s": "Files Retrieved ×0.1 (FTPS/HTTPS)", "t": 2018.51, "v": 2.005},
      {"s": "Files Retrieved ×0.1 (FTPS/HTTPS)", "t": 2018.66, "v": 2.015},
      {"s": "Files Retrieved ×0.1 (FTPS/HTTPS)", "t": 2018.75, "v": 1.142},
      {"s": "Files Retrieved ×0.1 (FTPS/HTTPS)", "t": 2018.84, "v": 1.011},
      {"s": "Files Retrieved ×0.1 (FTPS/HTTPS)", "t": 2018.99, "v": 0.992},
      {"s": "Files Retrieved ×0.1 (FTPS/HTTPS)", "t": 2019.1, "v": 1.058},
      {"s": "Files Retrieved ×0.1 (FTPS/HTTPS)", "t": 2019.17, "v": 1.03},
      {"s": "Files Retrieved ×0.1 (FTPS/HTTPS)", "t": 2019.25, "v": 1.199},
      {"s": "Files Retrieved ×0.1 (FTPS/HTTPS)", "t": 2019.32, "v": 1.171},
      {"s": "Files Retrieved ×0.1 (FTPS/HTTPS)", "t": 2019.41, "v": 1.339},
      {"s": "Files Retrieved ×0.1 (FTPS/HTTPS)", "t": 2019.5, "v": 1.264},
      {"s": "Files Retrieved ×0.1 (FTPS/HTTPS)", "t": 2019.6, "v": 1.639},
      {"s": "Files Retrieved ×0.1 (FTPS/HTTPS)", "t": 2019.72, "v": 1.883},
      {"s": "Files Retrieved ×0.1 (FTPS/HTTPS)", "t": 2019.81, "v": 2.202},
      {"s": "Files Retrieved ×0.1 (FTPS/HTTPS)", "t": 2019.88, "v": 2.69},
      {"s": "Files Retrieved ×0.1 (FTPS/HTTPS)", "t": 2019.93, "v": 2.877},
      {"s": "Files Retrieved ×0.1 (FTPS/HTTPS)", "t": 2020.0, "v": 3.037},
      {"s": "Files Retrieved ×0.1 (FTPS/HTTPS)", "t": 2020.16, "v": 4.829},
      {"s": "Files Retrieved ×0.1 (FTPS/HTTPS)", "t": 2020.25, "v": 4.971},
      {"s": "Files Retrieved ×0.1 (FTPS/HTTPS)", "t": 2020.34, "v": 5.043},
      {"s": "Files Retrieved ×0.1 (FTPS/HTTPS)", "t": 2020.41, "v": 5.203},
      {"s": "Files Retrieved ×0.1 (FTPS/HTTPS)", "t": 2020.5, "v": 5.025},
      {"s": "Files Retrieved ×0.1 (FTPS/HTTPS)", "t": 2020.58, "v": 4.713},
      {"s": "Files Retrieved ×0.1 (FTPS/HTTPS)", "t": 2020.69, "v": 4.125},
      {"s": "Files Retrieved ×0.1 (FTPS/HTTPS)", "t": 2020.84, "v": 3.519},
      {"s": "Files Retrieved ×0.1 (FTPS/HTTPS)", "t": 2020.91, "v": 3.447},
      {"s": "Files Retrieved ×0.1 (FTPS/HTTPS)", "t": 2021.0, "v": 3.59}
    ],
    "note": [
      {"t": 2011.45, "v": 3.198, "label": "40% of heliophysics papers in 2020 AGU\njournals acknowledged SPDF services and data"}
    ],
    "xticks": [
      {"t": 2005}, {"t": 2006}, {"t": 2007}, {"t": 2008}, {"t": 2009}, {"t": 2010}, {"t": 2011}, {"t": 2012},
      {"t": 2013}, {"t": 2014}, {"t": 2015}, {"t": 2016}, {"t": 2017}, {"t": 2018}, {"t": 2019}, {"t": 2020}
    ],
    "yticks": [
      {"v": 1}, {"v": 2}, {"v": 3}, {"v": 4}, {"v": 5}
    ]
  },
  "layer": [
    {
      "data": {"name": "series"},
      "mark": {"type": "line", "strokeWidth": 4, "strokeJoin": "round", "clip": true},
      "encoding": {
        "x": {
          "field": "t", "type": "quantitative",
          "scale": {"domain": [2004, 2021], "nice": false, "zero": false},
          "axis": {
            "orient": "bottom", "title": null, "format": "d",
            "values": [2004, 2006, 2008, 2010, 2012, 2014, 2016, 2018, 2020],
            "labelPadding": 22
          }
        },
        "y": {
          "field": "v", "type": "quantitative",
          "scale": {"domain": [0, 5.5], "nice": false},
          "axis": {
            "orient": "left", "values": [0, 1, 2, 3, 4, 5], "format": "d",
            "labelPadding": 15,
            "title": "Monthly\u00a0 SPDF\u00a0 Usage\u00a0 (\u00d710\u2075)",
            "titleFont": "Liberation Sans", "titleFontSize": 50, "titleFontWeight": "normal",
            "titleColor": "#262626", "titleAngle": 270, "titleAlign": "center",
            "titleBaseline": "alphabetic", "titleX": -82, "titleY": 514
          }
        },
        "color": {
          "field": "s", "type": "nominal",
          "scale": {
            "domain": ["CDAWeb (unlimited)", "SSCWeb & 4D Orbit Viewer (Non-TIPSOD cap of 130,000)", "OMNIWeb +", "Files Retrieved ×0.1 (FTPS/HTTPS)"],
            "range": ["#1010d8", "#e81ae8", "#33dd33", "#e81010"]
          },
          "legend": {"title": null, "encode": {"legend": {"update": {"strokeWidth": {"value": 2.5}}}}}
        },
        "strokeDash": {
          "field": "s", "type": "nominal",
          "scale": {
            "domain": ["CDAWeb (unlimited)", "SSCWeb & 4D Orbit Viewer (Non-TIPSOD cap of 130,000)", "OMNIWeb +", "Files Retrieved ×0.1 (FTPS/HTTPS)"],
            "range": [[1, 0], [1, 0], [18, 11], [1, 0]]
          },
          "legend": {"title": null}
        }
      }
    },
    {
      "data": {"name": "note"},
      "mark": {"type": "text", "font": "Lato", "fontSize": 44, "lineHeight": 51, "lineBreak": "\n", "align": "center", "baseline": "alphabetic", "color": "#000000"},
      "encoding": {
        "x": {"field": "t", "type": "quantitative", "axis": {"orient": "top", "title": null, "labels": false}},
        "y": {"field": "v", "type": "quantitative", "axis": {"orient": "right", "title": null, "labels": false}},
        "text": {"field": "label", "type": "nominal"}
      }
    },
    {
      "data": {"name": "xticks"},
      "mark": {"type": "rule", "color": "#333333", "strokeWidth": 3},
      "encoding": {
        "x": {"field": "t", "type": "quantitative", "axis": null},
        "y": {"datum": 0, "type": "quantitative", "axis": null},
        "y2": {"datum": 0.1177}
      }
    },
    {
      "data": {"name": "xticks"},
      "mark": {"type": "rule", "color": "#333333", "strokeWidth": 3},
      "encoding": {
        "x": {"field": "t", "type": "quantitative", "axis": null},
        "y": {"datum": 5.3823, "type": "quantitative", "axis": null},
        "y2": {"datum": 5.5}
      }
    },
    {
      "data": {"name": "yticks"},
      "mark": {"type": "rule", "color": "#333333", "strokeWidth": 3},
      "encoding": {
        "y": {"field": "v", "type": "quantitative", "axis": null},
        "x": {"datum": 2004, "type": "quantitative", "axis": null},
        "x2": {"datum": 2004.186}
      }
    },
    {
      "data": {"name": "yticks"},
      "mark": {"type": "rule", "color": "#333333", "strokeWidth": 3},
      "encoding": {
        "y": {"field": "v", "type": "quantitative", "axis": null},
        "x": {"datum": 2020.814, "type": "quantitative", "axis": null},
        "x2": {"datum": 2021}
      }
    }
  ],
  "resolve": {"axis": {"x": "independent", "y": "independent"}}
}
